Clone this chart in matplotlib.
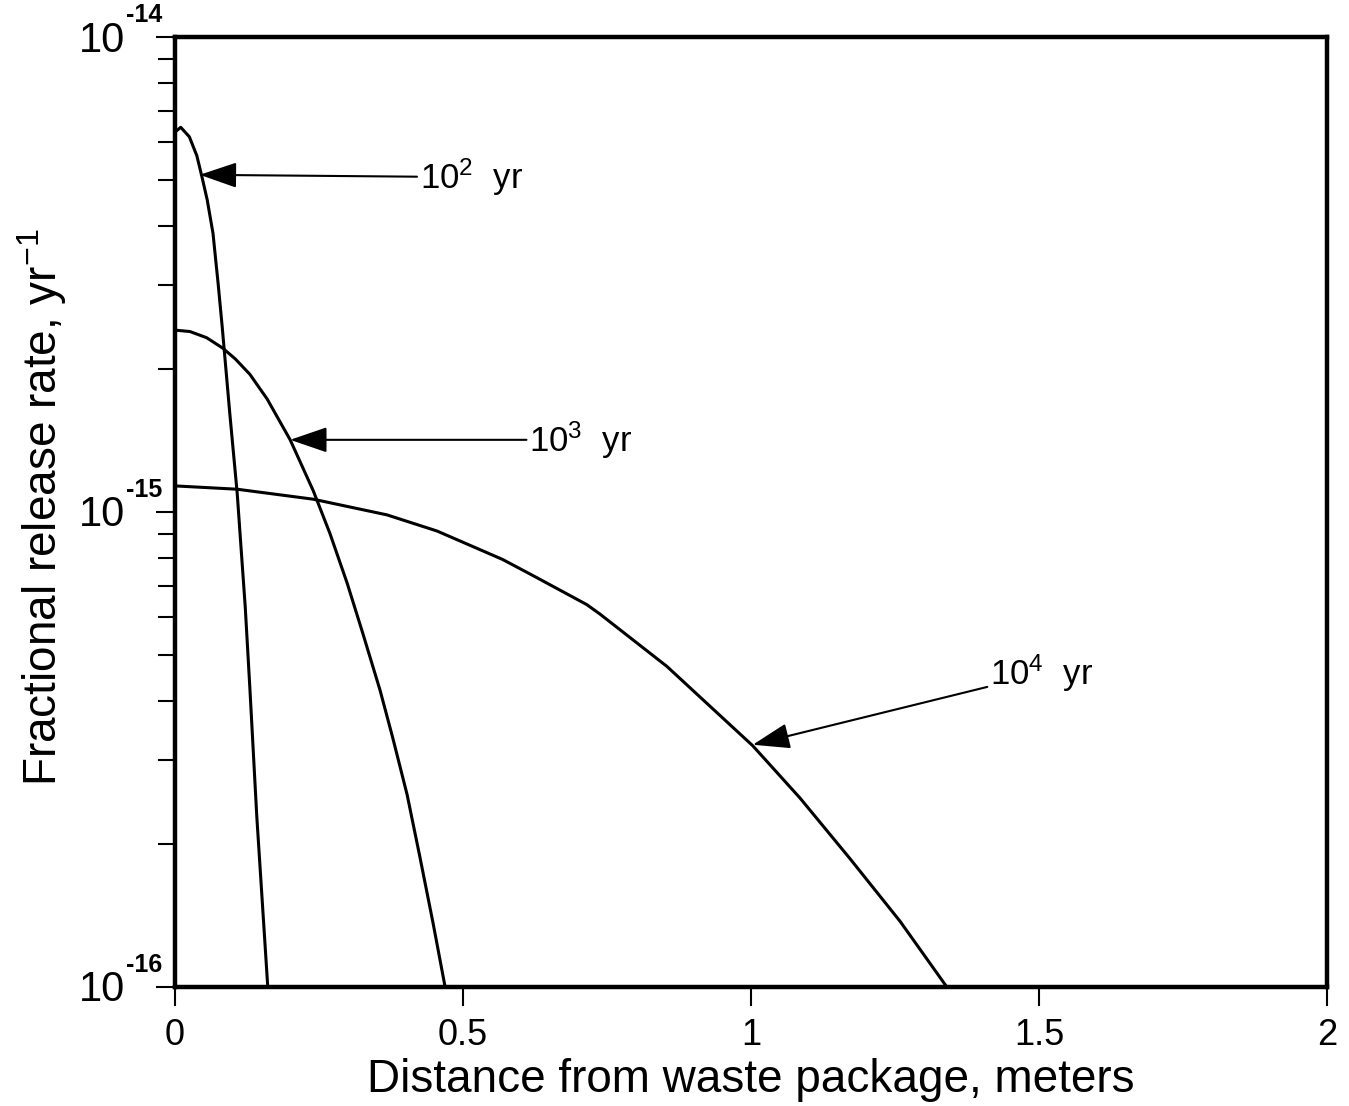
import matplotlib
matplotlib.use("Agg")
import matplotlib.pyplot as plt
from matplotlib.ticker import LogLocator, NullFormatter
import numpy as np

plt.rcParams["font.family"] = ["Liberation Sans", "DejaVu Sans"]
plt.rcParams["mathtext.fontset"] = "custom"
plt.rcParams["mathtext.rm"] = "Liberation Sans"
plt.rcParams["mathtext.it"] = "Liberation Sans"

# ---- data (distance in m, log10 of release rate) ----
x_1e2 = [0.0, 0.010, 0.025, 0.038, 0.047, 0.056, 0.066, 0.075, 0.082, 0.095,
         0.108, 0.122, 0.130, 0.142, 0.161]
lg_1e2 = [-14.20, -14.19, -14.21, -14.25, -14.295, -14.343, -14.413, -14.52,
          -14.61, -14.79, -14.96, -15.20, -15.37, -15.64, -15.998]

x_1e3 = [0.0, 0.026, 0.055, 0.083, 0.105, 0.130, 0.160, 0.200, 0.240, 0.269,
         0.299, 0.326, 0.356, 0.378, 0.403, 0.425, 0.448, 0.469]
lg_1e3 = [-14.617, -14.620, -14.633, -14.655, -14.678, -14.71, -14.762, -14.848,
          -14.955, -15.045, -15.150, -15.255, -15.375, -15.475, -15.595, -15.725,
          -15.865, -16.0]

x_1e4 = [0.0, 0.108, 0.240, 0.368, 0.455, 0.569, 0.628, 0.715, 0.738, 0.854,
         1.003, 1.085, 1.172, 1.259, 1.340]
lg_1e4 = [-14.945, -14.952, -14.973, -15.006, -15.040, -15.100, -15.138, -15.195,
          -15.215, -15.325, -15.492, -15.602, -15.730, -15.862, -16.0]

curves = [(x_1e2, lg_1e2), (x_1e3, lg_1e3), (x_1e4, lg_1e4)]

# label text, arrow tip (x, log y), text anchor (x, log y)
labels = ["$10^{2}$  yr", "$10^{3}$  yr", "$10^{4}$  yr"]
tips = [(0.043, -14.29), (0.200, -14.848), (1.003, -15.49)]
anchors = [(0.425, -14.295), (0.615, -14.848), (1.415, -15.34)]

xticks = [0, 0.5, 1, 1.5, 2]
xticklabels = ["0", "0.5", "1", "1.5", "2"]
yticks = [1e-16, 1e-15, 1e-14]
ytick_exps = ["-16", "-15", "-14"]

fig = plt.figure(figsize=(13.49, 11.06), dpi=100)
ax = fig.add_axes([0.1297, 0.1076, 0.854, 0.8589])

for xs, lg in curves:
    ax.plot(xs, 10 ** np.array(lg), color="black", lw=2.2,
            solid_joinstyle="round")

for lab, (tx, ty), (ax_, ay) in zip(labels, tips, anchors):
    ax.annotate(lab, xy=(tx, 10 ** ty), xytext=(ax_, 10 ** ay),
                fontsize=25, va="center", ha="left",
                arrowprops=dict(arrowstyle="-|>,head_length=1.05,head_width=0.36",
                                color="black", lw=1.5, shrinkA=0, shrinkB=0,
                                mutation_scale=22))

ax.set_yscale("log")
ax.set_xlim(0, 2)
ax.set_ylim(1e-16, 1e-14)
ax.set_xticks(xticks)
ax.set_xticklabels(xticklabels, fontsize=26)
ax.set_yticks(yticks)
ax.set_yticklabels([])
ax.yaxis.set_minor_locator(LogLocator(base=10, subs=np.arange(2, 10)))
ax.yaxis.set_minor_formatter(NullFormatter())

# y tick labels drawn as "10" plus a small raised exponent, like the original
ytr = ax.get_yaxis_transform()
for yv, ex in zip(yticks, ytick_exps):
    ax.annotate("10", xy=(0, yv), xycoords=ytr, xytext=(-36, -2.5),
                textcoords="offset points", ha="right", va="center",
                fontsize=30, annotation_clip=False)
    ax.annotate(ex, xy=(0, yv), xycoords=ytr, xytext=(-35, 7),
                textcoords="offset points", ha="left", va="bottom",
                fontsize=18, fontweight="bold", annotation_clip=False)

ax.tick_params(axis="both", which="major", direction="out", length=14, width=1.5,
               top=False, right=False)
ax.tick_params(axis="y", which="minor", direction="out", length=12, width=1.5)
ax.tick_params(axis="x", pad=8)

for s in ax.spines.values():
    s.set_linewidth(3.2)

ax.set_xlabel("Distance from waste package, meters", fontsize=33, labelpad=4)
ax.set_ylabel("Fractional release rate, yr$^{-1}$", fontsize=33)
ax.yaxis.set_label_coords(-0.092, 0.505)

fig.savefig("out.png", dpi=100)
